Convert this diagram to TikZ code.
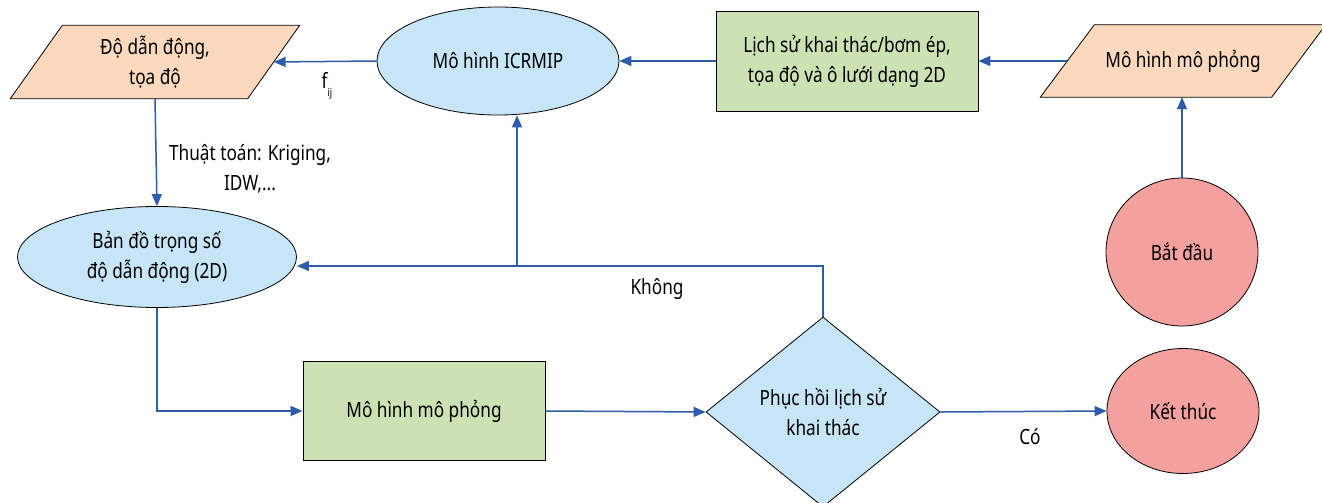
\documentclass[tikz,border=0pt]{standalone}
\usepackage{fontspec}
\setmainfont{Noto Sans}[FakeStretch=0.82]
\usetikzlibrary{shapes.geometric,arrows.meta}
\definecolor{peach}{HTML}{FCD9BD}
\definecolor{lblue}{HTML}{C6E5F7}
\definecolor{lgreen}{HTML}{CDE2B3}
\definecolor{lpink}{HTML}{F4A09F}
\definecolor{lineblue}{HTML}{2F5CA9}
\pgfdeclarelayer{bg}
\pgfsetlayers{bg,main}
\begin{document}
\begin{tikzpicture}[x=1pt,y=-1pt,
  every node/.style={font=\fontsize{21}{30}\selectfont, align=center},
  outl/.style={draw=black, line width=0.8pt, inner sep=0pt},
  paratext/.style={rectangle, inner sep=0pt},
  parashape/.style={draw=black, line width=0.8pt, fill=peach, line join=miter},
  ell/.style={outl, ellipse, fill=lblue},
  term/.style={outl, ellipse, fill=lpink},
  gbox/.style={outl, rectangle, fill=lgreen},
  decis/.style={outl, diamond, fill=lblue},
  conn/.style={draw=lineblue, line width=1.5pt, -{Triangle[length=12pt,width=10pt]}},
  plain/.style={draw=lineblue, line width=1.5pt},
  lbl/.style={font=\fontsize{21}{30}\selectfont}
]
\useasboundingbox (0,0) rectangle (1322,503);

\node[paratext, minimum width=237pt, minimum height=73pt] (p1) at (155,62) {Độ dẫn động,\\tọa độ};
\node[ell, minimum width=242pt, minimum height=108pt] (icrm) at (498,61) {Mô hình ICRMIP};
\node[gbox, minimum width=262pt, minimum height=100pt] (lich) at (847,61) {Lịch sử khai thác/bơm ép,\\tọa độ và ô lưới dạng 2D};
\node[paratext, minimum width=231pt, minimum height=72pt] (p2) at (1183,61) {Mô hình mô phỏng};
\node[term, minimum width=152pt, minimum height=148pt] (bd) at (1182,252) {Bắt đầu};
\node[ell, minimum width=279pt, minimum height=101pt] (bando) at (157,257) {Bản đồ trọng số\\độ dẫn động (2D)};
\node[gbox, minimum width=242pt, minimum height=99pt] (mo) at (424,411) {Mô hình mô phỏng};
\node[decis, minimum width=234pt, minimum height=190pt] (dia) at (823,412) {Phục hồi lịch sử\\khai thác};
\node[term, minimum width=152pt, minimum height=125pt] (kt) at (1183,411) {Kết thúc};

\begin{pgfonlayer}{bg}
\fill[white] (0,0) rectangle (1322,503);
\draw[parashape] ([xshift=26pt]p1.north west) -- ([xshift=26pt]p1.north east)
  -- ([xshift=-26pt]p1.south east) -- ([xshift=-26pt]p1.south west) -- cycle;
\draw[parashape] ([xshift=27pt]p2.north west) -- ([xshift=27pt]p2.north east)
  -- ([xshift=-27pt]p2.south east) -- ([xshift=-27pt]p2.south west) -- cycle;
\end{pgfonlayer}

\coordinate (kj) at (517,266);

\draw[conn] (bd.north) -- (bd.north |- p2.south);
\draw[conn] (p2.west) -- (lich.east);
\draw[conn] (lich.west) -- (icrm.east);
\draw[conn] (icrm.west) -- (p1.east);
\node[lbl] (fij) at (327,86) {f\raisebox{-8pt}{\fontsize{11}{11}\selectfont ij}};
\draw[conn] (p1.south) -- (bando.north);
\node[lbl] (thuat) at (250,169) {Thuật toán: Kriging,\\IDW,...};
\draw[plain] (dia.north) |- (kj);
\draw[conn] (kj) -- (bando.east |- kj);
\draw[conn] (kj) -- (kj |- icrm.south);
\node[lbl] (khong) at (657,289) {Không};
\draw[conn] (bando.south) |- (mo.west);
\draw[conn] (mo.east) -- (dia.west);
\draw[conn] (dia.east) -- (kt.west);
\node[lbl] (co) at (1030,437) {Có};
\end{tikzpicture}
\end{document}
